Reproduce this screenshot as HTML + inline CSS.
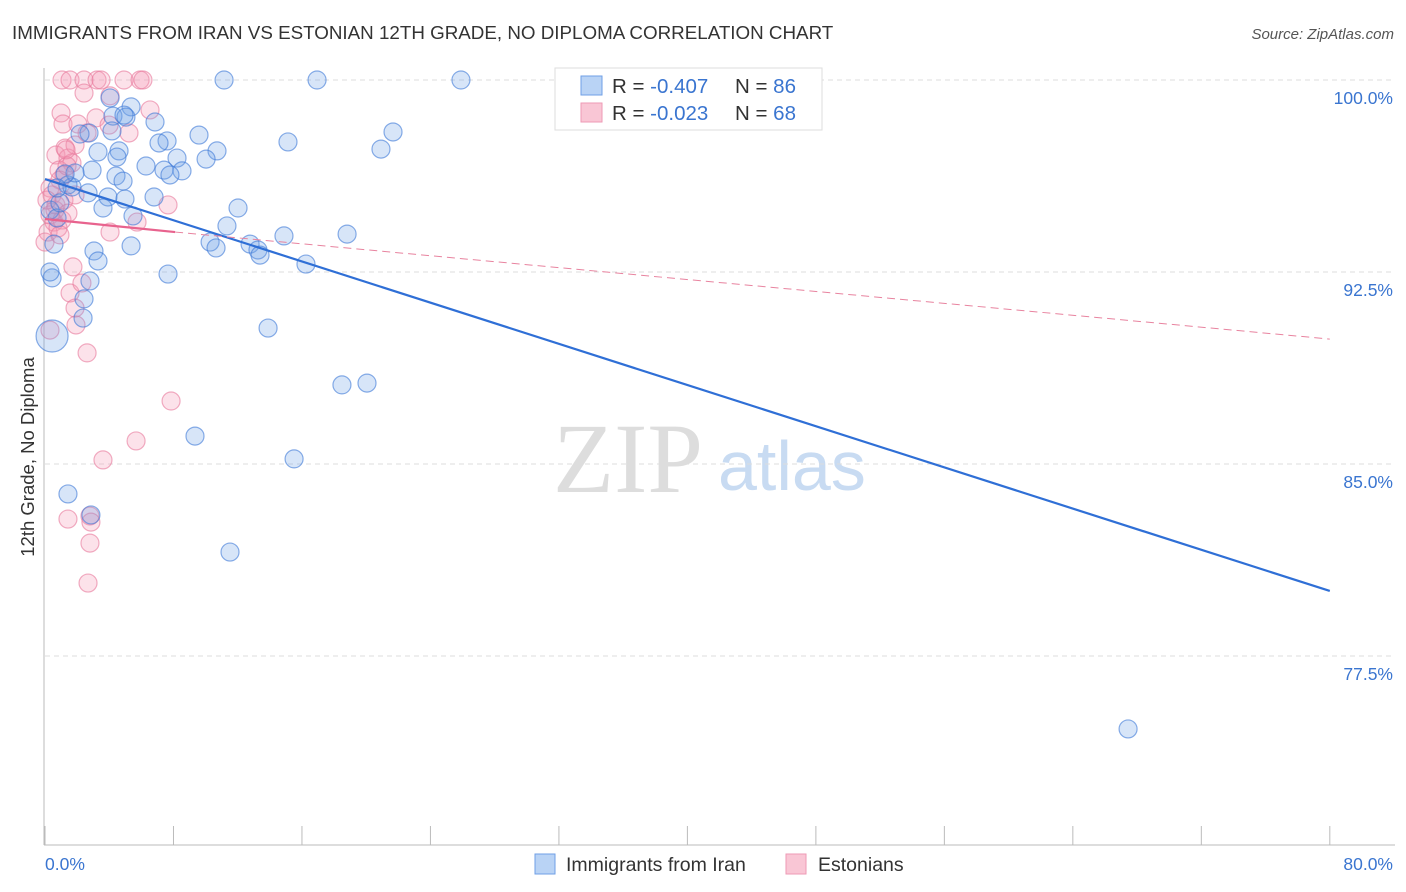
<!DOCTYPE html>
<html><head><meta charset="utf-8"><style>
body{margin:0;background:#fff;font-family:"Liberation Sans",sans-serif;}
svg{display:block}
</style></head><body>
<svg id="c" width="1406" height="892" xmlns="http://www.w3.org/2000/svg">
<text x="12" y="39" font-size="18.8" fill="#333">IMMIGRANTS FROM IRAN VS ESTONIAN 12TH GRADE, NO DIPLOMA CORRELATION CHART</text>
<text x="1394" y="39" font-size="15" fill="#555" font-style="italic" text-anchor="end">Source: ZipAtlas.com</text>
<text transform="translate(34,457) rotate(-90)" font-size="18.5" fill="#333" text-anchor="middle">12th Grade, No Diploma</text>
<g><text x="553" y="492" font-family="Liberation Serif,serif" font-size="100" fill="#ddd">ZIP</text><text x="718" y="490" font-size="70" fill="#c8dbf2">atlas</text></g>
<g id="grid"></g><g id="axes"></g><g id="pts"></g><g id="trend"></g>
<g>
<rect x="555" y="68" width="267" height="62" fill="#fff" stroke="#ddd"/>
<rect x="581" y="76" width="21" height="19" fill="#b9d3f5" stroke="#6f9fe6"/>
<rect x="581" y="103" width="21" height="19" fill="#f9c6d5" stroke="#ee9ab5"/>
<text x="612" y="93" font-size="20.5" fill="#333">R = <tspan fill="#3a75d0">-0.407</tspan><tspan x="735">N = </tspan><tspan fill="#3a75d0">86</tspan></text>
<text x="612" y="120" font-size="20.5" fill="#333">R = <tspan fill="#3a75d0">-0.023</tspan><tspan x="735">N = </tspan><tspan fill="#3a75d0">68</tspan></text>
</g>
<g>
<rect x="535" y="854" width="20" height="20" fill="#b9d3f5" stroke="#6f9fe6"/>
<text x="566" y="871" font-size="19.5" fill="#333">Immigrants from Iran</text>
<rect x="786" y="854" width="20" height="20" fill="#f9c6d5" stroke="#ee9ab5"/>
<text x="818" y="871" font-size="19.5" fill="#333">Estonians</text>
</g>
</svg>
<script>
const yTicks=[100,92.5,85,77.5];
const yTickLabels=["100.0%","92.5%","85.0%","77.5%"];
const xTickLabels=["0.0%","80.0%"];
const blueX=[11.15,16.94,25.9,4.05,5.36,4.23,5.04,4.92,6.85,2.74,4.17,2.18,9.59,7.6,7.1,15.13,21.67,20.92,10.71,3.3,4.61,4.48,8.22,10.03,6.29,7.41,2.93,8.53,7.78,4.42,4.86,1.43,1.68,2.68,3.92,6.79,4.98,12.02,3.61,5.48,11.33,14.88,18.81,10.28,12.77,10.65,13.26,13.39,5.36,3.05,0.56,3.3,16.25,7.66,2.8,0.44,0.31,2.43,2.37,13.89,18.49,20.05,9.34,15.51,1.43,2.86,11.52,67.44,1.87,1.25,0.31,0.75,0.93,0.75];
const blueY=[100,100,100,99.3,98.95,98.59,98.55,98.63,98.36,97.93,98.01,97.89,97.85,97.62,97.54,97.58,97.97,97.3,97.23,97.19,97.23,96.99,96.95,96.91,96.64,96.48,96.48,96.45,96.29,96.25,96.05,95.9,95.82,95.59,95.43,95.43,95.35,95,95,94.69,94.3,93.91,93.98,93.67,93.59,93.44,93.36,93.16,93.52,93.32,93.59,92.93,92.81,92.42,92.15,92.27,92.5,91.45,90.7,90.31,88.09,88.16,86.09,85.2,83.83,83.01,81.56,74.65,96.37,96.33,94.92,94.61,95.2,95.78];
const bigX=[0.44], bigY=[90.0];
const pinkX=[1.06,1.56,2.43,3.24,3.49,4.92,5.92,6.1,2.43,4.05,1,6.54,1.12,2.05,3.18,3.99,5.23,2.62,0.68,1.25,1.43,1.68,0.87,1.18,0.93,0.31,0.44,0.68,0.31,0.56,1.06,0.19,0,0.81,7.66,5.73,4.05,1.74,1.56,2.3,1.87,1.93,0.31,2.62,7.85,5.67,3.61,1.43,2.8,2.86,2.8,2.68,0.62,0.12,1.37,1.87,1.31,1.18,1.87,1.43,0.93];
const pinkY=[100,100,100,100,100,100,100,100,99.49,99.38,98.71,98.83,98.28,98.28,98.52,98.24,97.93,97.93,97.07,97.34,96.95,96.76,96.48,96.29,96.09,95.78,95.51,95.12,94.73,94.45,94.53,94.06,93.67,94.22,95.12,94.45,94.06,92.7,91.68,92.07,91.09,90.43,90.23,89.34,87.46,85.9,85.16,82.85,82.97,82.73,81.91,80.35,94.92,95.31,96.64,97.46,97.27,95.31,95.51,94.8,93.95];
const blueTrendX=[0,80], blueTrendY=[96.13,80.04];
const pinkSolidX=[0,8.1], pinkSolidY=[94.57,94.06];
const pinkDashX=[8.1,80], pinkDashY=[94.06,89.88];

const NS="http://www.w3.org/2000/svg";
const X=v=>45+v*16.06, Y=v=>80+(100-v)*25.6;
function mk(t,a,p){const e=document.createElementNS(NS,t);for(const k in a)e.setAttribute(k,a[k]);document.getElementById(p).appendChild(e);return e;}
yTicks.forEach((t,i)=>{
  const l=mk('line',{x1:45,x2:1395,y1:Y(t),y2:Y(t),stroke:'#ddd','stroke-dasharray':'5,4'},'grid');
  
  
  const tx=mk('text',{x:1393,y:Y(t)+24,'font-size':17.5,fill:'#3a75d0','text-anchor':'end'},'axes');
  tx.textContent=yTickLabels[i];
  
  
});
const ax=mk('line',{x1:44,x2:44,y1:68,y2:845,stroke:'#bbb'},'axes');


const bx=mk('line',{x1:44,x2:1395,y1:845,y2:845,stroke:'#bbb'},'axes');


for(let i=0;i<=10;i++){
  const t=mk('line',{x1:X(i*8),x2:X(i*8),y1:826,y2:845,stroke:'#bbb'},'axes');
  
  
}
const xl0=mk('text',{x:45,y:870,'font-size':17.5,fill:'#3a75d0'},'axes');xl0.textContent=xTickLabels[0];


const xl1=mk('text',{x:1393,y:870,'font-size':17.5,fill:'#3a75d0','text-anchor':'end'},'axes');xl1.textContent=xTickLabels[1];


pinkX.forEach((v,i)=>{
  const c=mk('circle',{cx:X(v),cy:Y(pinkY[i]),r:9,fill:'rgba(244,150,180,0.28)',stroke:'rgba(232,120,155,0.6)','stroke-width':1.2},'pts');
  
  
});
blueX.forEach((v,i)=>{
  const c=mk('circle',{cx:X(v),cy:Y(blueY[i]),r:9,fill:'rgba(110,160,230,0.28)',stroke:'rgba(60,120,215,0.6)','stroke-width':1.2},'pts');
  
  
});
bigX.forEach((v,i)=>{
  const c=mk('circle',{cx:X(v),cy:Y(bigY[i]),r:16,fill:'rgba(110,160,230,0.28)',stroke:'rgba(60,120,215,0.6)','stroke-width':1.2},'pts');
  
  
});
const bt=mk('line',{x1:X(blueTrendX[0]),y1:Y(blueTrendY[0]),x2:X(blueTrendX[1]),y2:Y(blueTrendY[1]),stroke:'#2f6fd6','stroke-width':2.2},'trend');


const ps=mk('line',{x1:X(pinkSolidX[0]),y1:Y(pinkSolidY[0]),x2:X(pinkSolidX[1]),y2:Y(pinkSolidY[1]),stroke:'#e8638e','stroke-width':2.2},'trend');


const pd=mk('line',{x1:X(pinkDashX[0]),y1:Y(pinkDashY[0]),x2:X(pinkDashX[1]),y2:Y(pinkDashY[1]),stroke:'#e8839f','stroke-width':1,'stroke-dasharray':'8,5'},'trend');


</script>
</body></html>
